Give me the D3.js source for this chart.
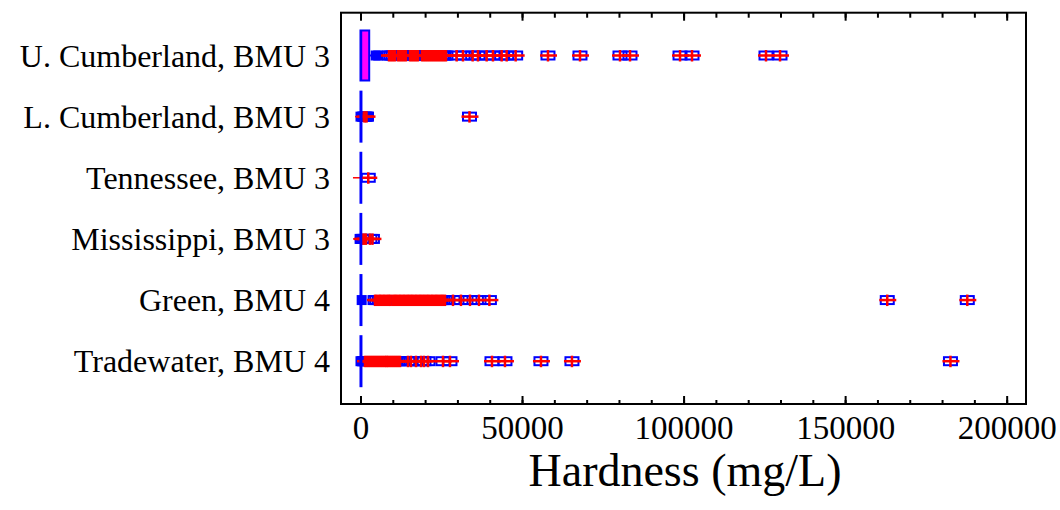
<!DOCTYPE html>
<html>
<head>
<meta charset="utf-8">
<script src="https://cdn.jsdelivr.net/npm/d3@7"></script>
<style>
  body { margin: 0; background: #fff; }
  svg { display: block; }
</style>
</head>
<body>
<div id="chart"></div>
<script>
// Box-and-whisker plot of hardness by basin
const categories = ["U. Cumberland, BMU 3", "L. Cumberland, BMU 3", "Tennessee, BMU 3",
                    "Mississippi, BMU 3", "Green, BMU 4", "Tradewater, BMU 4"];

// box stats per category: [whisker low, Q1, median, Q3, whisker high]
const boxStats = [
  [0, 0, 300, 2700, 3600],
  [0, 0, 150, 300, 600],
  [0, 0, 100, 250, 600],
  [0, 0, 120, 250, 500],
  [0, 0, 150, 300, 700],
  [0, 0, 150, 300, 700]
];
const means = [10000, 800, 150, 150, 4500, 1400];

// outside points (squares) and far outside points (squares with plus)
const nearOutliers = [
  [4700, 5500],
  [0, 800, 1600, 2400],
  [],
  [0],
  [370],
  [0, 400]
];
const farOutliers = [
  [8820, 9440, 10060, 10680, 11610, 12230, 12840, 13460, 14080, 15320, 15940, 16560, 17180, 17800,
   19030, 19650, 20270, 20890, 21510, 22130, 22750, 23370, 23990, 24610, 25230, 25840, 26460,
   29770, 31720, 34720, 36360, 39050, 41000, 43690, 45250, 48030, 58030, 67940, 80320, 83420,
   98900, 102610, 125510, 129850],
  [1240, 1860, 33740],
  [2410],
  [500, 1100, 1700, 2900, 3700],
  [4500, 5050, 5800, 6300, 7000, 7550, 8250, 8800, 9350, 10100, 10700, 11250, 11950, 12500,
   13200, 13750, 14450, 15000, 15650, 16200, 16900, 17450, 18150, 18700, 19350, 19950, 20600,
   21150, 21850, 22400, 23100, 23650, 24300, 24950, 25500, 26150, 28630, 31100, 33890, 36680,
   39900, 163040, 187810],
  [1390, 2010, 2630, 3250, 3870, 4490, 5110, 5730, 6350, 6960, 7580, 8050, 8510, 9130, 9750,
   10370, 10990, 11610, 12230, 14700, 15630, 17180, 18730, 19650, 20890, 25530, 27700, 40700,
   44720, 55860, 65450, 182600]
];

const majorTicks = [0, 50000, 100000, 150000, 200000];
const minorTicks = d3.range(0, 200001, 10000);
const xTitle = "Hardness (mg/L)";

const width = 1060, height = 510;
const margin = { top: 12.7, right: 34, bottom: 106, left: 341 };
const font = "'Liberation Serif', 'Times New Roman', serif";

const svg = d3.select("#chart").append("svg")
    .attr("width", width)
    .attr("height", height)
    .attr("viewBox", [0, 0, width, height]);

const x = d3.scaleLinear()
    .domain([-6030, 205980])
    .range([margin.left, width - margin.right]);

const y = d3.scalePoint()
    .domain(categories)
    .range([margin.top, height - margin.bottom])
    .padding(0.7);

const boxH = 50;

// minor / major ticks on bottom and top
const bottomY = height - margin.bottom;
svg.append("g")
    .attr("transform", `translate(0,${bottomY})`)
    .call(d3.axisBottom(x).tickValues(minorTicks).tickSize(-4).tickFormat(""))
    .call(g => g.select(".domain").remove())
    .call(g => g.selectAll("line").attr("stroke-width", 2));
svg.append("g")
    .attr("transform", `translate(0,${bottomY})`)
    .call(d3.axisBottom(x).tickValues(majorTicks).tickSize(-8).tickPadding(12).tickFormat(d3.format("d")))
    .call(g => g.select(".domain").remove())
    .call(g => g.selectAll("line").attr("stroke-width", 2))
    .call(g => g.selectAll("text").attr("font-family", font).attr("font-size", 33).attr("fill", "#000"));
svg.append("g")
    .attr("transform", `translate(0,${margin.top})`)
    .call(d3.axisTop(x).tickValues(minorTicks).tickSize(-5).tickFormat(""))
    .call(g => g.select(".domain").remove())
    .call(g => g.selectAll("line").attr("stroke-width", 2));
svg.append("g")
    .attr("transform", `translate(0,${margin.top})`)
    .call(d3.axisTop(x).tickValues(majorTicks).tickSize(-8).tickFormat(""))
    .call(g => g.select(".domain").remove())
    .call(g => g.selectAll("line").attr("stroke-width", 2));

// category labels
svg.append("g")
  .selectAll("text")
  .data(categories)
  .join("text")
    .attr("x", margin.left - 11)
    .attr("y", d => y(d))
    .attr("dy", "0.35em")
    .attr("text-anchor", "end")
    .attr("font-family", font)
    .attr("font-size", 32)
    .text(d => d);

// axis title
svg.append("text")
    .attr("x", 685)
    .attr("y", 486)
    .attr("text-anchor", "middle")
    .attr("font-family", font)
    .attr("font-size", 46)
    .text(xTitle);

const plot = svg.append("g");

categories.forEach((c, i) => {
  const cy = y(c);
  const [lo, q1, med, q3, hi] = boxStats[i];

  // whiskers
  plot.append("line")
      .attr("x1", x(lo)).attr("x2", x(q1))
      .attr("y1", cy).attr("y2", cy)
      .attr("stroke", "#0000ff").attr("stroke-width", 2);
  plot.append("line")
      .attr("x1", x(q3)).attr("x2", x(hi))
      .attr("y1", cy).attr("y2", cy)
      .attr("stroke", "#0000ff").attr("stroke-width", 2);

  // outside points
  plot.selectAll(null)
    .data(nearOutliers[i])
    .join("rect")
      .attr("x", d => x(d) - 5)
      .attr("y", cy - 5)
      .attr("width", 10)
      .attr("height", 10)
      .attr("fill", "#0000ff");

  // far outside points: square + plus
  plot.selectAll(null)
    .data(farOutliers[i])
    .join("rect")
      .attr("x", d => x(d) - 6.5)
      .attr("y", cy - 4)
      .attr("width", 13)
      .attr("height", 8)
      .attr("fill", "none")
      .attr("stroke", "#0000ff")
      .attr("stroke-width", 2);
  const plus = plot.selectAll(null)
    .data(farOutliers[i])
    .join("g")
      .attr("stroke", "#ff0000")
      .attr("stroke-width", 2.5);
  plus.append("line")
      .attr("x1", d => x(d) - 8).attr("x2", d => x(d) + 9)
      .attr("y1", cy).attr("y2", cy);
  plus.append("line")
      .attr("x1", d => x(d)).attr("x2", d => x(d))
      .attr("y1", cy - 5.5).attr("y2", cy + 6);

  // mean
  plot.append("line")
      .attr("x1", x(means[i]) - 8).attr("x2", x(means[i]) + 8)
      .attr("y1", cy).attr("y2", cy)
      .attr("stroke", "#ff0000").attr("stroke-width", 1.5);
  plot.append("line")
      .attr("x1", x(means[i])).attr("x2", x(means[i]))
      .attr("y1", cy - 5).attr("y2", cy + 5)
      .attr("stroke", "#ff0000").attr("stroke-width", 1.5);

  // box and median
  plot.append("rect")
      .attr("x", x(q1))
      .attr("y", cy - boxH / 2)
      .attr("width", Math.max(0.5, x(q3) - x(q1)))
      .attr("height", boxH)
      .attr("fill", "#ff00ff")
      .attr("stroke", "#0000ff")
      .attr("stroke-width", 2);
  plot.append("line")
      .attr("x1", x(med)).attr("x2", x(med))
      .attr("y1", cy - boxH / 2).attr("y2", cy + boxH / 2)
      .attr("stroke", "#0000ff").attr("stroke-width", 1.5);
});

// frame
svg.append("rect")
    .attr("x", margin.left)
    .attr("y", margin.top)
    .attr("width", width - margin.right - margin.left)
    .attr("height", height - margin.bottom - margin.top)
    .attr("fill", "none")
    .attr("stroke", "#000")
    .attr("stroke-width", 2);
</script>
</body>
</html>
